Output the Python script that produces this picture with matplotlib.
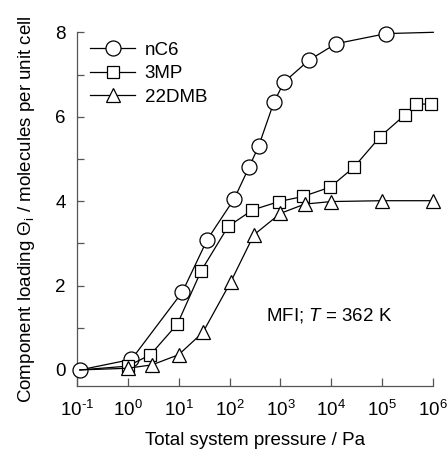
import numpy as np
import matplotlib
matplotlib.use('Agg')
import matplotlib.pyplot as plt
from matplotlib.ticker import FixedLocator, FixedFormatter

plt.rcParams['font.family'] = ['Liberation Sans', 'DejaVu Sans']
plt.rcParams['mathtext.fontset'] = 'custom'
plt.rcParams['mathtext.rm'] = 'Liberation Sans'
plt.rcParams['mathtext.it'] = 'Liberation Sans:italic'
plt.rcParams['mathtext.default'] = 'regular'
plt.rcParams['axes.unicode_minus'] = False

# data (pressure in Pa, loading in molecules/uc)
p_nc6 = [0.115, 1.19, 11.9, 36.6, 123, 243, 372, 741, 1175, 3630, 12300, 120000, 1e6]
q_nc6 = [0.0, 0.25, 1.85, 3.09, 4.05, 4.81, 5.30, 6.34, 6.82, 7.34, 7.73, 7.97, 8.0]

p_3mp = [0.115, 1.0, 2.8, 9.5, 27.8, 94, 282, 933, 2770, 9400, 27500, 91000, 275000, 466000, 910000]
q_3mp = [0.0, 0.09, 0.36, 1.09, 2.35, 3.40, 3.79, 3.99, 4.11, 4.33, 4.80, 5.53, 6.04, 6.30, 6.30]

p_22dmb = [0.115, 1.0, 3.0, 10, 30, 106, 300, 1000, 3000, 10000, 100000, 1e6]
q_22dmb = [0.0, 0.04, 0.12, 0.36, 0.89, 2.09, 3.20, 3.71, 3.93, 3.99, 4.01, 4.01]

xticks = [1e-1, 1e0, 1e1, 1e2, 1e3, 1e4, 1e5, 1e6]
xticklabels = ['$10^{\u2010' + '1}$', '$10^{0}$', '$10^{1}$', '$10^{2}$',
               '$10^{3}$', '$10^{4}$', '$10^{5}$', '$10^{6}$']

fig = plt.figure(figsize=(4.48, 4.57), dpi=100)
ax = fig.add_axes([0.1712, 0.1554, 0.796, 0.7739])

lw = 0.9
ax.plot(p_nc6, q_nc6, 'k-', lw=lw, marker='o', ms=10.8, mfc='white', mec='k', mew=0.9,
        markevery=list(range(len(p_nc6) - 1)), label='nC6', clip_on=False, zorder=3)
ax.plot(p_3mp, q_3mp, 'k-', lw=lw, marker='s', ms=8.5, mfc='white', mec='k', mew=0.9,
        markevery=list(range(1, len(p_3mp))), label='3MP', clip_on=False, zorder=3)
ax.plot(p_22dmb, q_22dmb, 'k-', lw=lw, marker='^', ms=9.5, mfc='white', mec='k', mew=0.9,
        markevery=list(range(1, len(p_22dmb))), label='22DMB', clip_on=False, zorder=3)

ax.set_xscale('log')
ax.set_xlim(1e-1, 1e6)
ax.set_ylim(-0.38, 8)
ax.xaxis.set_major_locator(FixedLocator(xticks))
ax.xaxis.set_major_formatter(FixedFormatter(xticklabels))
ax.xaxis.set_minor_locator(FixedLocator([]))
ax.set_yticks([0, 2, 4, 6, 8])
ax.set_yticks([1, 3, 5, 7], minor=True)

for s in ['top', 'right']:
    ax.spines[s].set_visible(False)
for s in ['left', 'bottom']:
    ax.spines[s].set_color('#555555')
    ax.spines[s].set_linewidth(0.9)

ax.tick_params(axis='x', which='major', direction='in', length=6, width=0.9, color='#555555',
               labelsize=13.5, pad=10)
ax.tick_params(axis='y', which='both', direction='in', length=5, width=0.9, color='#555555',
               labelsize=13.5, pad=8)

ax.set_xlabel('Total system pressure / Pa', fontsize=13.5, labelpad=9)
ax.set_ylabel(r'Component loading $\Theta_{\mathrm{i}}$ / molecules per unit cell', fontsize=13.5,
              labelpad=13)

ax.text(10 ** 2.71, 1.3, r'MFI; $\mathit{T}$ = 362 K', fontsize=13.5, ha='left', va='center')

leg = ax.legend(loc='upper left', frameon=False, fontsize=13.5, handlelength=2.4,
                handletextpad=0.5, labelspacing=0.34, borderaxespad=0.1,
                bbox_to_anchor=(0.012, 1.0))

fig.savefig('out.png', dpi=100)
